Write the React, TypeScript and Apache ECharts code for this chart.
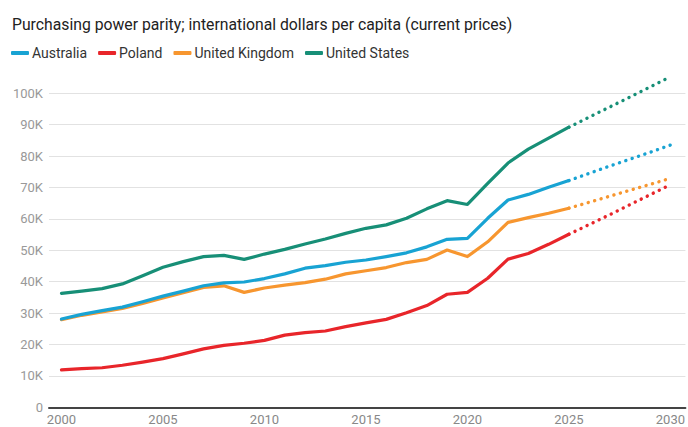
import React, { useEffect, useRef } from "react";
import * as echarts from "echarts";

const years = [2000, 2001, 2002, 2003, 2004, 2005, 2006, 2007, 2008, 2009, 2010, 2011, 2012, 2013, 2014, 2015, 2016, 2017, 2018, 2019, 2020, 2021, 2022, 2023, 2024, 2025];
const projYears = [2025, 2026, 2027, 2028, 2029, 2030];

const australia = [28.1, 29.6, 30.8, 31.9, 33.6, 35.4, 37.0, 38.7, 39.6, 39.9, 41.0, 42.5, 44.3, 45.1, 46.2, 46.9, 48.0, 49.2, 51.1, 53.5, 53.8, 60.2, 66.0, 67.8, 70.1, 72.2];
const poland = [11.9, 12.3, 12.6, 13.4, 14.4, 15.5, 17.0, 18.6, 19.7, 20.4, 21.3, 23.0, 23.8, 24.3, 25.7, 26.9, 28.0, 30.1, 32.4, 36.0, 36.6, 41.1, 47.2, 49.0, 51.9, 55.1];
const uk = [27.9, 29.3, 30.4, 31.5, 33.1, 34.8, 36.5, 38.2, 38.7, 36.6, 38.0, 38.9, 39.7, 40.8, 42.5, 43.5, 44.5, 46.1, 47.1, 50.1, 48.0, 52.7, 58.9, 60.4, 61.8, 63.4];
const us = [36.3, 37.0, 37.8, 39.3, 41.9, 44.6, 46.4, 48.0, 48.4, 47.1, 48.8, 50.3, 52.0, 53.6, 55.4, 57.0, 58.1, 60.2, 63.2, 65.8, 64.6, 71.3, 77.8, 82.2, 85.7, 89.2];

const australiaProj = [72.2, 74.5, 76.8, 79.0, 81.2, 83.5];
const polandProj = [55.1, 58.2, 61.3, 64.5, 67.7, 70.9];
const ukProj = [63.4, 65.3, 67.2, 69.1, 71.0, 72.9];
const usProj = [89.2, 92.4, 95.6, 98.8, 102.0, 105.3];

const names = ["Australia", "Poland", "United Kingdom", "United States"];
const colors = ["#18a3d3", "#e8252a", "#f7962f", "#178f77"];
const xLabels = [2000, 2005, 2010, 2015, 2020, 2025, 2030];
const subtitle = "Purchasing power parity; international dollars per capita (current prices)";

const FONT = "Roboto, 'Noto Sans', sans-serif";

export default function App() {
  const ref = useRef<HTMLDivElement>(null);
  useEffect(() => {
    if (!ref.current) return;
    const chart = echarts.init(ref.current, null, { renderer: "svg" });
    const solid = [australia, poland, uk, us];
    const proj = [australiaProj, polandProj, ukProj, usProj];
    const series: any[] = [];
    names.forEach((n, i) => {
      series.push({
        name: n,
        type: "line",
        data: years.map((y, k) => [y, solid[i][k] * 1000]),
        showSymbol: false,
        symbol: "none",
        clip: false,
        lineStyle: { color: colors[i], width: 3.2, join: "round", cap: "round" },
        itemStyle: { color: colors[i] },
        z: 3 + (i === 0 ? 1 : 0),
      });
    });
    names.forEach((n, i) => {
      series.push({
        name: n,
        type: "line",
        data: projYears.map((y, k) => [y, proj[i][k] * 1000]),
        showSymbol: false,
        symbol: "none",
        clip: false,
        lineStyle: { color: colors[i], width: 3.4, type: [0.1, 6.6], cap: "round" },
        itemStyle: { color: colors[i] },
        z: 3,
      });
    });
    chart.setOption({
      animation: false,
      textStyle: { fontFamily: FONT },
      title: {
        text: subtitle,
        left: 7,
        top: 11,
        textStyle: { fontFamily: FONT, fontSize: 15.75, fontWeight: "normal", color: "#222" },
      },
      legend: {
        data: names,
        left: 6,
        top: 41,
        icon: "roundRect",
        itemWidth: 18,
        itemHeight: 4,
        itemGap: 11,
        textStyle: { fontFamily: FONT, fontSize: 14, color: "#333", padding: [0, 0, 0, -2] },
      },
      grid: { left: 49, right: 2, top: 93.3, bottom: 19.7, containLabel: false },
      xAxis: {
        type: "value",
        min: 1999.385,
        max: 2030.74,
        splitLine: { show: false },
        axisTick: { show: false },
        axisLine: { show: true, lineStyle: { color: "#444", width: 2 } },
        axisLabel: {
          customValues: xLabels,
          formatter: (v: number) => String(v),
          color: "#888",
          fontSize: 13,
          fontFamily: FONT,
          margin: 6,
        },
      },
      yAxis: {
        type: "value",
        min: 0,
        max: 100000,
        interval: 10000,
        axisLine: { show: false },
        axisTick: { show: false },
        splitLine: { lineStyle: { color: "#e2e2e2", width: 1 } },
        axisLabel: {
          formatter: (v: number) => (v === 0 ? "0" : v / 1000 + "K"),
          color: "#999",
          fontSize: 13,
          fontFamily: FONT,
          margin: 6,
        },
      },
      series,
    });
    return () => chart.dispose();
  }, []);
  return <div ref={ref} style={{ width: 688, height: 427, position: "absolute", left: 0, top: 0 }} />;
}
